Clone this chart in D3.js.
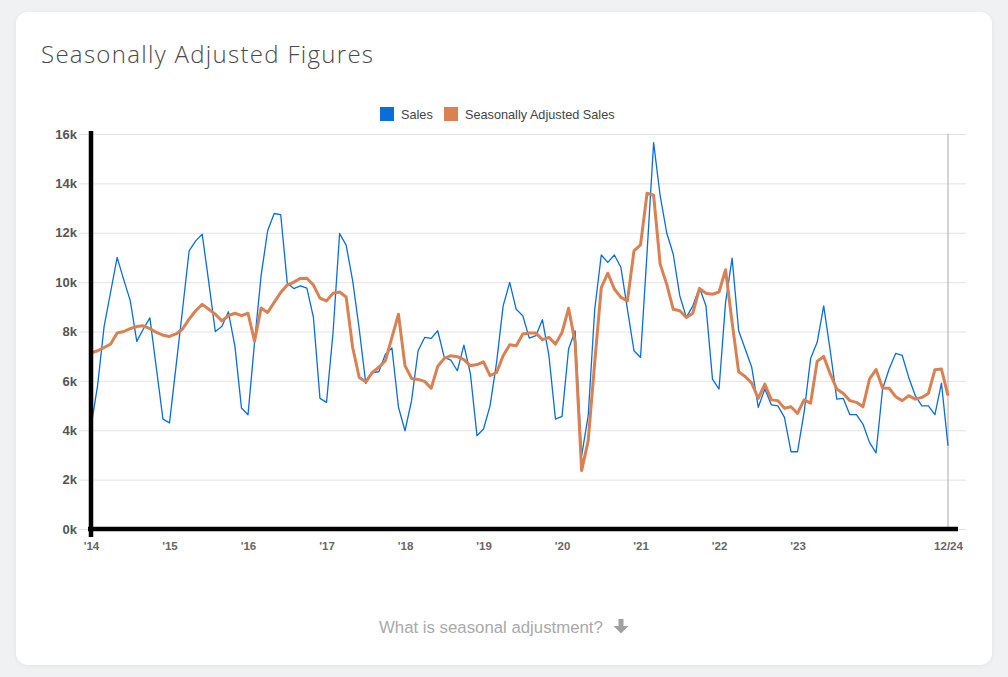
<!DOCTYPE html>
<html>
<head>
<meta charset="utf-8">
<script src="https://cdn.jsdelivr.net/npm/d3@7"></script>
<style>
  html, body { margin: 0; padding: 0; background: #f0f1f3; }
  #chart { width: 1008px; height: 677px; }
</style>
</head>
<body>
<div id="chart"></div>
<script>
// Data ------------------------------------------------------------------------------------------------------------
// Monthly, Jan 2014 .. Dec 2024
const sales = [
  4150, 5800, 8200, 9600, 11000, 10100, 9250, 7600, 8100, 8550, 6500, 4450,
  4300, 6600, 8900, 11270, 11670, 11940, 10000, 8000, 8200, 8800, 7400, 4900,
  4630, 7560, 10260, 12080, 12780, 12730, 9960, 9740, 9850, 9760, 8570, 5290,
  5130, 7960, 11970, 11500, 10050, 8100, 5900, 6340, 6370, 7080, 7330, 4930,
  3980, 5200, 7220, 7760, 7720, 8030, 6950, 6840, 6410, 7450, 6280, 3780,
  4050, 4990, 6750, 9040, 9990, 8900, 8640, 7730, 7830, 8480, 7020, 4450,
  4560, 7290, 8030, 2970, 4590, 8900, 11100, 10800, 11100, 10600, 8900, 7220,
  6950, 11200, 15650, 13500, 12000, 11130, 9450, 8570, 9040, 9780, 9040, 6070,
  5670, 9180, 10970, 8030, 7290, 6550, 4930, 5670, 5030, 4990, 4520, 3130,
  3130, 4720, 6910, 7560, 9040, 7220, 5260, 5290, 4630, 4630, 4250, 3510,
  3080, 5670, 6480, 7110, 7030, 6140, 5400, 4990, 4990, 4630, 5910, 3370
];
const adjusted = [
  7130, 7220, 7350, 7490, 7940, 8000, 8120, 8200, 8230, 8120, 7960, 7850,
  7800, 7900, 8100, 8500, 8840, 9100, 8900, 8700, 8430, 8640, 8740, 8640,
  8740, 7610, 8950, 8770, 9180, 9580, 9880, 10000, 10150, 10160, 9880, 9350,
  9240, 9550, 9600, 9400, 7350, 6140, 5960, 6340, 6550, 6820, 7760, 8700,
  6610, 6100, 6060, 5980, 5700, 6590, 6910, 7020, 6980, 6860, 6610, 6660,
  6770, 6210, 6340, 7020, 7460, 7420, 7900, 7940, 7940, 7670, 7760, 7490,
  7960, 8940, 7560, 2360, 3580, 6750, 9780, 10360, 9720, 9380, 9240, 11270,
  11510, 13600, 13520, 10730, 9920, 8900, 8840, 8570, 8740, 9740, 9550, 9510,
  9600, 10500, 8370, 6370, 6180, 5910, 5290, 5870, 5230, 5200, 4890, 4950,
  4680, 5230, 5100, 6790, 6990, 6280, 5670, 5490, 5200, 5130, 4950, 6070,
  6460, 5710, 5700, 5360, 5200, 5400, 5260, 5330, 5490, 6450, 6480, 5400
];
const seriesNames = ["Sales", "Seasonally Adjusted Sales"];
const xTickIndex = [0, 12, 24, 36, 48, 60, 72, 84, 96, 108, 131];
const xTickLabels = ["'14", "'15", "'16", "'17", "'18", "'19", "'20", "'21", "'22", "'23", "12/24"];
const yTicks = [0, 2000, 4000, 6000, 8000, 10000, 12000, 14000, 16000];

// Canvas ----------------------------------------------------------------------------------------------------------
const canvasWidth = 1008;
const canvasHeight = 677;

const plotLeft = 91;
const plotRight = 948;
const plotTop = 134;
const plotBottom = 529;
const gridLeft = 79;
const gridRight = 966;

const colors = ["#0a6dd9", "#d98152"];

const svg = d3.select("#chart")
  .append("svg")
  .attr("width", canvasWidth)
  .attr("height", canvasHeight)
  .style("font-family", "'Liberation Sans', Arial, sans-serif");

// Card
svg.append("rect")
  .attr("x", 16)
  .attr("y", 12)
  .attr("width", 976)
  .attr("height", 653)
  .attr("rx", 12)
  .attr("fill", "#ffffff")
  .style("filter", "drop-shadow(0px 1px 2px rgba(0,0,0,0.06))");

svg.append("text")
  .text("Seasonally Adjusted Figures")
  .attr("x", 41)
  .attr("y", 63)
  .style("font-family", "'Open Sans', sans-serif")
  .style("font-weight", 300)
  .style("font-size", "24px")
  .style("letter-spacing", "1.3px")
  .attr("fill", "#4a4a4a");

// Scales ----------------------------------------------------------------------------------------------------------
const xScale = d3.scaleLinear()
  .domain([0, sales.length - 1])
  .range([plotLeft, plotRight]);
const yScale = d3.scaleLinear()
  .domain([0, 16000])
  .range([plotBottom, plotTop]);

// Y axis with gridlines
const yAxis = svg.append("g")
  .attr("transform", "translate(" + gridLeft + ",0)")
  .call(d3.axisLeft(yScale)
    .tickValues(yTicks)
    .tickFormat(d => (d / 1000) + "k")
    .tickSize(-(gridRight - gridLeft))
    .tickPadding(2));
yAxis.select(".domain").remove();
yAxis.selectAll("line")
  .attr("stroke", "#e4e4e4")
  .attr("stroke-width", 1);
yAxis.selectAll("text")
  .attr("fill", "#555")
  .style("font-size", "13px")
  .style("font-weight", "bold")
  .style("font-family", "'Liberation Sans', Arial, sans-serif");

// X axis labels
const xAxis = svg.append("g")
  .attr("transform", "translate(0," + (plotBottom + 6) + ")")
  .call(d3.axisBottom(xScale)
    .tickValues(xTickIndex)
    .tickFormat((d, i) => xTickLabels[i])
    .tickSize(0)
    .tickPadding(7));
xAxis.select(".domain").remove();
xAxis.selectAll("text")
  .attr("fill", "#666")
  .style("font-size", "11.5px")
  .style("font-weight", "bold")
  .style("font-family", "'Liberation Sans', Arial, sans-serif");

// Marker line at last month
svg.append("line")
  .attr("x1", xScale(sales.length - 1))
  .attr("x2", xScale(sales.length - 1))
  .attr("y1", plotTop)
  .attr("y2", plotBottom)
  .attr("stroke", "#a8a8a8")
  .attr("stroke-width", 1);

// Lines -----------------------------------------------------------------------------------------------------------
const line = d3.line()
  .x((d, i) => xScale(i))
  .y(d => yScale(d));

svg.append("path")
  .datum(sales)
  .attr("d", line)
  .attr("fill", "none")
  .attr("stroke", colors[0])
  .attr("stroke-width", 1.3)
  .attr("stroke-linejoin", "round");

svg.append("path")
  .datum(adjusted)
  .attr("d", line)
  .attr("fill", "none")
  .attr("stroke", colors[1])
  .attr("stroke-width", 3)
  .attr("stroke-linejoin", "round");

// Thick black axes
svg.append("line")
  .attr("x1", plotLeft)
  .attr("x2", plotLeft)
  .attr("y1", plotTop - 3)
  .attr("y2", plotBottom + 8)
  .attr("stroke", "#000")
  .attr("stroke-width", 4.5);
svg.append("line")
  .attr("x1", plotLeft - 3)
  .attr("x2", 958)
  .attr("y1", plotBottom)
  .attr("y2", plotBottom)
  .attr("stroke", "#000")
  .attr("stroke-width", 4.5);

// Legend ----------------------------------------------------------------------------------------------------------
const legendX = [380, 444];
const legend = svg.append("g")
  .selectAll("g")
  .data(seriesNames)
  .join("g")
  .attr("transform", (d, i) => "translate(" + legendX[i] + ",107)");
legend.append("rect")
  .attr("width", 14)
  .attr("height", 14)
  .attr("fill", (d, i) => colors[i]);
legend.append("text")
  .text(d => d)
  .attr("x", 21)
  .attr("y", 11.5)
  .attr("fill", "#444")
  .style("font-size", "12.7px");

// Footer link -----------------------------------------------------------------------------------------------------
svg.append("text")
  .text("What is seasonal adjustment?")
  .attr("x", 379)
  .attr("y", 633)
  .attr("fill", "#a9a9a9")
  .style("font-size", "16.8px");

// Down arrow icon
svg.append("path")
  .attr("d", "M618.5,619 h5 v7 h5 l-7.5,7.5 l-7.5,-7.5 h5 z")
  .attr("fill", "#a0a0a0");
</script>
</body>
</html>
